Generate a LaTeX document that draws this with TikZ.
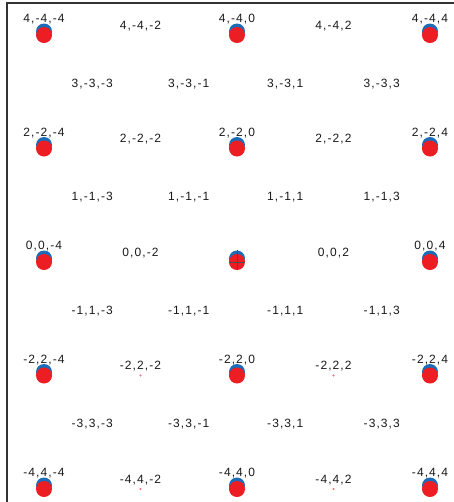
\documentclass[tikz,border=0pt]{standalone}
\usepackage{fontspec}
\newfontfamily\lblfont[LetterSpace=9]{Liberation Sans}
\usetikzlibrary{positioning}
\definecolor{dotred}{RGB}{236,30,36}
\definecolor{dotblue}{RGB}{28,108,184}

\begin{document}
\begin{tikzpicture}[x=48.25pt, y=56.75pt,
    lbl/.style={font=\lblfont\fontsize{12}{14}\selectfont, text=black!90, inner sep=0pt},
    ball/.style={circle, fill=dotred, inner sep=0pt, minimum size=16pt},
    bluecap/.style={circle, fill=dotblue, inner sep=0pt, minimum size=16pt},
    speck/.style={circle, fill=dotred!65, inner sep=0pt, minimum size=2.2pt}]
    \useasboundingbox (-4.912,-4.229) rectangle (4.497,4.617);
    \draw[line width=1.6pt, black!80] (-4.767,-4.229) -- (-4.767,4.564) -- (4.497,4.564);

    % big dots with their labels
    \foreach \r in {-4,-2,...,4}
        \foreach \k in {-4,0,4} {
            \pgfmathtruncatemacro\s{-\r}
            \node[bluecap] (b\r_\k) at ([yshift=3.5pt]\k,\r) {};
            \node[ball] (d\r_\k) at (\k,\r) {};
            \ifnum\numexpr\r*\r+\k*\k\relax=0 \else
                \node[lbl, above=2.5pt of d\r_\k] (l\r_\k) {\r,\s,\k};
            \fi
        }
    % cross on the middle dot
    \draw[black!70, line width=0.5pt] (b0_0.north) -- (d0_0.south);
    \draw[black!70, line width=0.5pt] (d0_0.west) -- (d0_0.east);

    % labels between the dots
    \foreach \r in {-4,-2,...,4}
        \foreach \k in {-2,2} {
            \pgfmathtruncatemacro\s{-\r}
            \node[lbl, yshift=9pt] (l\r_\k) at (\k,\r) {\r,\s,\k};
        }
    \foreach \r in {-3,-1,1,3}
        \foreach \k in {-3,-1,1,3} {
            \pgfmathtruncatemacro\s{-\r}
            \node[lbl, yshift=8pt] (l\r_\k) at (\k,\r) {\r,\s,\k};
        }

    % small marks in the lower rows
    \foreach \r in {-4,-2}
        \foreach \k in {-2,2}
            \node[speck] (t\r_\k) at (\k,\r) {};
\end{tikzpicture}
\end{document}
